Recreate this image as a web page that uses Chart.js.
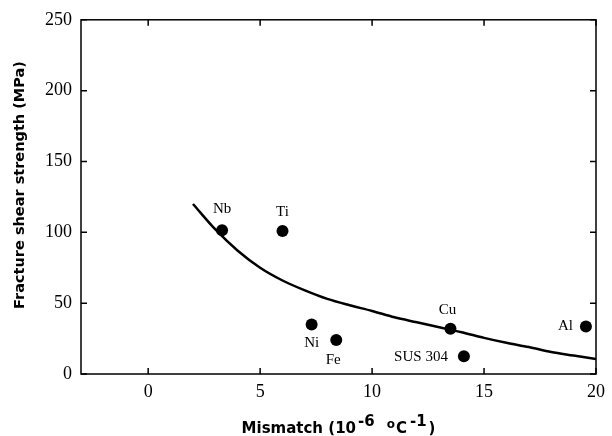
<!DOCTYPE html>
<html>
<head>
<meta charset="utf-8">
<script src="https://cdn.jsdelivr.net/npm/chart.js@4.4.1/dist/chart.umd.min.js"></script>
<style>
  html, body { margin: 0; padding: 0; background: #fff; }
  #wrap { width: 612px; height: 436px; position: relative; }
</style>
</head>
<body>
<div id="wrap"><canvas id="c" width="612" height="436"></canvas></div>
<script>
/* --- measured points (mismatch vs fracture shear strength) --- */
var metals = ['Nb', 'Ti', 'Ni', 'Fe', 'Cu', 'SUS 304', 'Al'];
var mismatch = [3.3, 6.0, 7.3, 8.4, 13.5, 14.1, 19.55];
var strength = [101.5, 101, 35, 24, 32, 12.5, 33.5];

/* --- fitted curve --- */
var curveX = [2, 3, 4, 5, 6, 7, 8, 9, 10, 11, 12, 13, 14, 15, 16, 17, 18, 19, 20];
var curveY = [120, 102, 87, 75, 66, 59, 53, 48.5, 44.5, 40, 36.5, 33, 29.5, 25.5, 22, 19, 15.5, 13, 10.5];

var xTicks = [0, 5, 10, 15, 20];
var yTicks = [0, 50, 100, 150, 200, 250];

var yTitle = 'Fracture shear strength (MPa)';
/* x title pieces: [text, raise, size, gap after] */
var xTitleParts = [['Mismatch (10', 0, 15, 2], ['-6', 7, 15, 12], ['o', 5, 12, 1], ['C', 0, 15, 3], ['-1', 7, 15, 2], [')', 0, 15, 0]];

/* label placement around each point: [dx, dy, align] */
var labelPlace = {
  'Nb': [0, -21, 'center'],
  'Ti': [0, -19, 'center'],
  'Ni': [0, 19, 'center'],
  'Fe': [-3, 20, 'center'],
  'Cu': [-3, -19, 'center'],
  'SUS 304': [-16, 1, 'right'],
  'Al': [-13, 0, 'right']
};

var pts = [];
for (var i = 0; i < metals.length; i++) pts.push({ x: mismatch[i], y: strength[i], name: metals[i] });
var curve = [];
for (var i = 0; i < curveX.length; i++) curve.push({ x: curveX[i], y: curveY[i] });

/* box + inward ticks on all four sides, point labels, axis titles */
var framePlugin = {
  id: 'frame',
  afterDraw: function(chart) {
    var ctx = chart.ctx;
    var a = chart.chartArea;
    var xs = chart.scales.x, ys = chart.scales.y;
    var tl = 6;
    ctx.save();
    ctx.strokeStyle = '#000';
    ctx.lineWidth = 1.5;
    ctx.strokeRect(a.left, a.top, a.right - a.left, a.bottom - a.top);
    ctx.beginPath();
    for (var i = 0; i < xTicks.length; i++) {
      var x = xs.getPixelForValue(xTicks[i]);
      ctx.moveTo(x, a.bottom); ctx.lineTo(x, a.bottom - tl);
      ctx.moveTo(x, a.top); ctx.lineTo(x, a.top + tl);
    }
    for (var i = 0; i < yTicks.length; i++) {
      var y = ys.getPixelForValue(yTicks[i]);
      ctx.moveTo(a.left, y); ctx.lineTo(a.left + tl, y);
      ctx.moveTo(a.right, y); ctx.lineTo(a.right - tl, y);
    }
    ctx.stroke();

    var meta = chart.getDatasetMeta(1);
    ctx.fillStyle = '#000';
    ctx.font = '15px "Liberation Serif", serif';
    ctx.textBaseline = 'middle';
    for (var i = 0; i < meta.data.length; i++) {
      var p = meta.data[i];
      var lp = labelPlace[metals[i]];
      ctx.textAlign = lp[2];
      ctx.fillText(metals[i], p.x + lp[0], p.y + lp[1]);
    }

    // y axis title (sits a little above the plot centre in the original)
    ctx.save();
    ctx.translate(20, 185);
    ctx.rotate(-Math.PI / 2);
    ctx.textAlign = 'center';
    ctx.textBaseline = 'middle';
    ctx.font = 'bold 14.5px "DejaVu Sans", sans-serif';
    ctx.fillText(yTitle, 0, 0);
    ctx.restore();

    // x axis title with raised exponents
    ctx.textAlign = 'left';
    ctx.textBaseline = 'alphabetic';
    var total = 0;
    for (var i = 0; i < xTitleParts.length; i++) {
      ctx.font = 'bold ' + xTitleParts[i][2] + 'px "DejaVu Sans", sans-serif';
      total += ctx.measureText(xTitleParts[i][0]).width + xTitleParts[i][3];
    }
    var tx = (a.left + a.right) / 2 - total / 2;
    var base = 433;
    for (var i = 0; i < xTitleParts.length; i++) {
      ctx.font = 'bold ' + xTitleParts[i][2] + 'px "DejaVu Sans", sans-serif';
      ctx.fillText(xTitleParts[i][0], tx, base - xTitleParts[i][1]);
      tx += ctx.measureText(xTitleParts[i][0]).width + xTitleParts[i][3];
    }
    ctx.restore();
  }
};

new Chart(document.getElementById('c'), {
  type: 'scatter',
  data: {
    datasets: [
      {
        label: 'fit',
        data: curve,
        showLine: true,
        borderColor: '#000',
        borderWidth: 2.5,
        pointRadius: 0,
        cubicInterpolationMode: 'monotone',
        fill: false
      },
      {
        label: 'metals',
        data: pts,
        pointRadius: 6,
        pointBackgroundColor: '#000',
        pointBorderColor: '#000',
        borderWidth: 0
      }
    ]
  },
  options: {
    responsive: false,
    animation: false,
    events: [],
    layout: { padding: { top: 19, right: 11, left: 0, bottom: 0 } },
    plugins: { legend: { display: false }, tooltip: { enabled: false } },
    scales: {
      x: {
        type: 'linear',
        min: -3,
        max: 20,
        afterFit: function(s) { s.height = 62; },
        afterBuildTicks: function(s) { s.ticks = xTicks.map(function(v) { return { value: v }; }); },
        grid: { display: false, drawTicks: false },
        border: { display: false },
        ticks: {
          color: '#000',
          padding: 7,
          font: { family: '"Liberation Serif", serif', size: 18 }
        },
        title: { display: false }
      },
      y: {
        type: 'linear',
        min: 0,
        max: 250,
        afterFit: function(s) { s.width = 81; },
        afterBuildTicks: function(s) { s.ticks = yTicks.map(function(v) { return { value: v }; }); },
        grid: { display: false, drawTicks: false },
        border: { display: false },
        ticks: {
          color: '#000',
          padding: 9,
          font: { family: '"Liberation Serif", serif', size: 18 }
        },
        title: { display: false }
      }
    }
  },
  plugins: [framePlugin]
});
</script>
</body>
</html>
